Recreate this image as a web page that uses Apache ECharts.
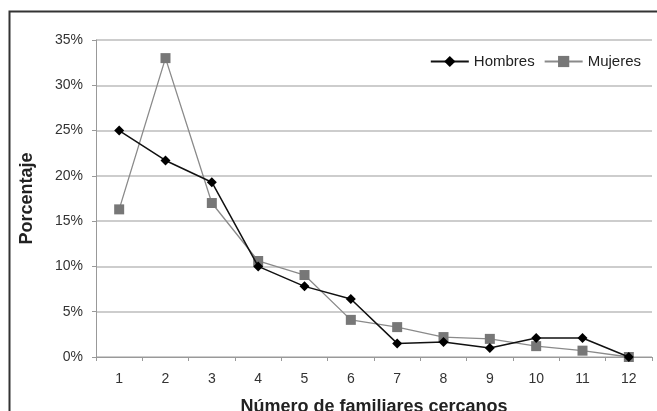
<!DOCTYPE html>
<html><head><meta charset="utf-8">
<script src="https://cdn.jsdelivr.net/npm/echarts@6/dist/echarts.min.js"></script>
<style>html,body{margin:0;padding:0;background:#fff}#c{width:657px;height:411px}</style>
</head><body><div id="c"></div>
<script>
const categories = ['1','2','3','4','5','6','7','8','9','10','11','12'];
const hombres = [25.0, 21.7, 19.3, 10.0, 7.8, 6.4, 1.5, 1.65, 1.0, 2.1, 2.1, 0];
const mujeres = [16.3, 33.0, 17.0, 10.6, 9.05, 4.1, 3.3, 2.2, 2.0, 1.2, 0.7, 0];
const yTicks = [0, 5, 10, 15, 20, 25, 30, 35];

const chart = echarts.init(document.getElementById('c'), null, {renderer: 'canvas'});
const font = 'Liberation Sans, Arial, sans-serif';
chart.setOption({
  animation: false,
  backgroundColor: '#fff',
  graphic: [{type: 'rect', shape: {x: 9.5, y: 11.5, width: 700, height: 500}, style: {fill: 'none', stroke: '#333', lineWidth: 2}, z: -1}],
  grid: {left: 96, right: 5, top: 40, bottom: 54, outerBoundsMode: 'none', containLabel: false},
  legend: {
    top: 49, right: 11, itemWidth: 38, itemHeight: 14, itemGap: 9,
    textStyle: {fontFamily: font, fontSize: 15, color: '#222'},
    data: ['Hombres', 'Mujeres']
  },
  xAxis: {
    type: 'category', data: categories, boundaryGap: true,
    name: 'Número de familiares cercanos', nameLocation: 'middle', nameGap: 41,
    nameTextStyle: {fontFamily: font, fontSize: 18, fontWeight: 'bold', color: '#222'},
    axisLine: {lineStyle: {color: '#999', width: 1}},
    axisTick: {show: true, length: 4, lineStyle: {color: '#999'}},
    axisLabel: {fontFamily: font, fontSize: 14, color: '#333', margin: 15}
  },
  yAxis: {
    type: 'value', min: 0, max: 35, interval: 5,
    name: 'Porcentaje', nameLocation: 'middle', nameGap: 60, nameRotate: 90,
    nameTextStyle: {fontFamily: font, fontSize: 18, fontWeight: 'bold', color: '#222'},
    axisLine: {show: true, lineStyle: {color: '#999'}},
    axisTick: {show: true, length: 4, lineStyle: {color: '#999'}},
    axisLabel: {fontFamily: font, fontSize: 14, color: '#333', margin: 13,
      formatter: v => yTicks.includes(v) ? v + '%' : ''},
    splitLine: {lineStyle: {color: '#bdbdbd', width: 1.5}}
  },
  series: [
    {name: 'Hombres', type: 'line', data: hombres, symbol: 'diamond', symbolSize: 10,
     lineStyle: {color: '#111', width: 1.5}, itemStyle: {color: '#000'}, z: 3},
    {name: 'Mujeres', type: 'line', data: mujeres, symbol: 'rect', symbolSize: 10,
     lineStyle: {color: '#8a8a8a', width: 1.3}, itemStyle: {color: '#777'}, z: 2}
  ]
});
</script></body></html>
